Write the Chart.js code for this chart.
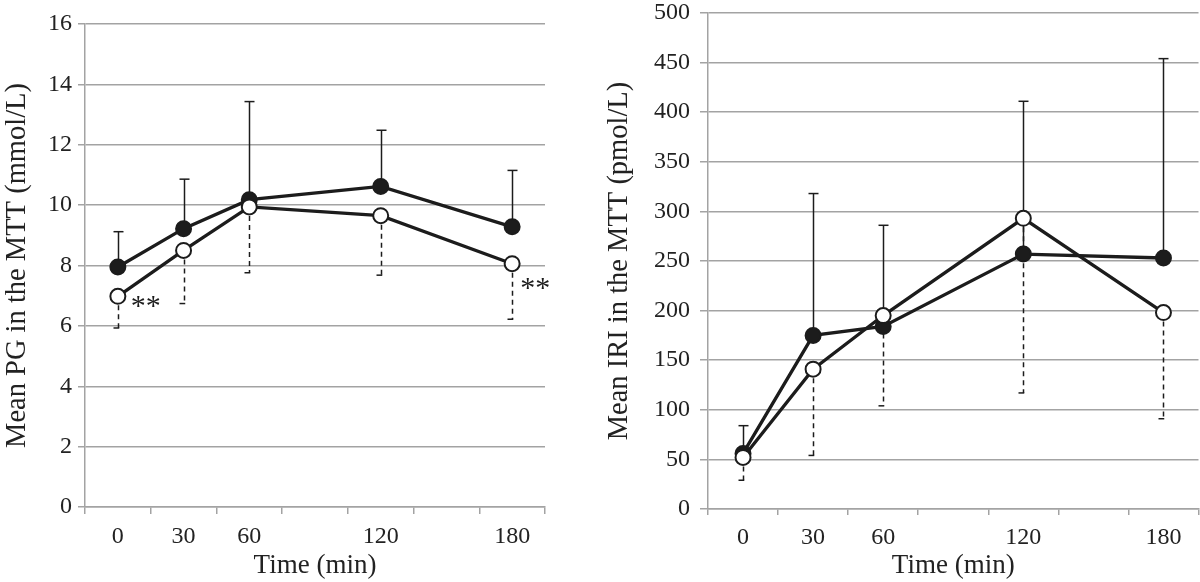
<!DOCTYPE html>
<html lang="en">
<head>
  <meta charset="UTF-8">
  <title>Mean PG and IRI in the MTT</title>
  <script src="https://cdn.jsdelivr.net/npm/chart.js"></script>
  <style>
    body { margin: 0; background: #fff; overflow: hidden; }
    #wrap { position: relative; width: 1200px; height: 582px; overflow: hidden; }
    canvas { position: absolute; top: 0; }
  </style>
</head>
<body>
  <div id="wrap">
    <canvas id="pgChart" width="560" height="582" style="left:0"></canvas>
    <canvas id="iriChart" width="608" height="582" style="left:600px"></canvas>
  </div>

  <script>
    // time points (90 and 150 are empty slots on the axis)
    const timeLabels = ['0', '30', '60', '', '120', '', '180'];

    // plasma glucose, mmol/L
    const pgFilled = [7.95, 9.22, 10.18, null, 10.62, null, 9.28];
    const pgFilledUpper = [9.12, 10.86, 13.43, null, 12.48, null, 11.15];
    const pgOpen = [6.98, 8.5, 9.94, null, 9.65, null, 8.06];
    const pgOpenLower = [5.93, 6.74, 7.76, null, 7.68, null, 6.22];
    const pgStars = ['**', null, null, null, null, null, '**'];

    // immunoreactive insulin, pmol/L
    const iriFilled = [56, 175, 184, null, 257, null, 253];
    const iriFilledUpper = [84, 318, 286, null, 411, null, 454];
    const iriOpen = [52, 141, 195, null, 293, null, 198];
    const iriOpenLower = [29, 54, 104, null, 117, null, 91];

    Chart.defaults.font.family = '"Liberation Serif", "DejaVu Serif", serif';
    Chart.defaults.color = '#222';

    const gridGray = '#a3a3a3';
    const ink = '#1c1c1c';

    // draws SD bars (solid up for filled, dashed down for open) and star marks
    function makeExtras(bars, stars, starOffsets) {
      return {
        id: 'extras',
        beforeDatasetsDraw(chart) {
          const { ctx, scales: { x, y } } = chart;
          ctx.save();
          ctx.strokeStyle = ink;
          ctx.lineWidth = 1.5;
          bars.forEach(b => {
            b.to.forEach((v, i) => {
              if (v == null) return;
              const px = Math.round(x.getPixelForValue(i)) + 0.5;
              const y0 = y.getPixelForValue(b.from[i]);
              const y1 = y.getPixelForValue(v);
              ctx.setLineDash(b.dashed ? [5, 4] : []);
              ctx.beginPath();
              ctx.moveTo(px, y0);
              ctx.lineTo(px, y1);
              ctx.stroke();
              ctx.setLineDash([]);
              ctx.beginPath();
              if (b.dashed) {
                ctx.moveTo(px - 5, y1);
                ctx.lineTo(px + 0.75, y1);
              } else {
                ctx.moveTo(px - 5, y1);
                ctx.lineTo(px + 5, y1);
              }
              ctx.stroke();
            });
          });
          ctx.restore();
        },
        afterDatasetsDraw(chart) {
          if (!stars) return;
          const { ctx, scales: { x, y } } = chart;
          ctx.save();
          ctx.fillStyle = ink;
          ctx.font = '30px "Liberation Serif"';
          ctx.textAlign = 'left';
          ctx.textBaseline = 'middle';
          stars.s.forEach((s, i) => {
            if (!s) return;
            const off = starOffsets[i];
            ctx.fillText(s, x.getPixelForValue(i) + off[0], y.getPixelForValue(stars.at[i]) + off[1]);
          });
          ctx.restore();
        }
      };
    }

    function makeChart(id, cfg) {
      const ctx = document.getElementById(id).getContext('2d');
      return new Chart(ctx, {
        type: 'line',
        data: {
          labels: timeLabels,
          datasets: [
            {
              data: cfg.open,
              borderColor: ink,
              borderWidth: 3.3,
              pointRadius: 7.5,
              pointBorderWidth: 2,
              pointBackgroundColor: '#fff',
              pointBorderColor: ink,
              spanGaps: true,
              order: 1
            },
            {
              data: cfg.filled,
              borderColor: ink,
              borderWidth: 3.3,
              pointRadius: 7.5,
              pointBorderWidth: 2,
              pointBackgroundColor: ink,
              pointBorderColor: ink,
              spanGaps: true,
              order: 2
            }
          ]
        },
        options: {
          responsive: false,
          animation: false,
          layout: { padding: cfg.padding },
          plugins: { legend: { display: false }, tooltip: { enabled: false } },
          scales: {
            x: {
              offset: true,
              grid: { offset: true, drawOnChartArea: false, tickLength: cfg.xTick, color: gridGray, lineWidth: 1.5 },
              border: { color: gridGray, width: 1.5 },
              ticks: { autoSkip: false, maxRotation: 0, padding: 8, font: { size: 24 }, color: '#222' },
              title: { display: true, text: 'Time (min)', font: { size: 27, lineHeight: 1 }, padding: { top: 0, bottom: 3 }, color: '#222' },
              afterFit(s) {
                s.height = cfg.xHeight;
                s.paddingLeft = 0;
                s.paddingRight = 0;
              }
            },
            y: {
              min: 0,
              max: cfg.max,
              ticks: { stepSize: cfg.step, padding: cfg.yPad, font: { size: 24 }, color: '#222' },
              grid: { color: gridGray, lineWidth: 1.5, tickLength: cfg.yTick },
              border: { color: gridGray, width: 1.5 },
              title: { display: true, text: cfg.yTitle, font: { size: 28.5, lineHeight: 1 }, padding: { top: cfg.titleTop, bottom: 0 }, color: '#222' },
              afterFit(s) {
                s.width = cfg.yWidth;
                s.paddingTop = 0;
                s.paddingBottom = 0;
              }
            }
          }
        },
        plugins: [makeExtras(
          [
            { from: cfg.filled, to: cfg.filledUpper, dashed: false },
            { from: cfg.open, to: cfg.openLower, dashed: true }
          ],
          cfg.stars ? { s: cfg.stars, at: cfg.open } : null,
          cfg.starOffsets
        )]
      });
    }

    makeChart('pgChart', {
      filled: pgFilled, filledUpper: pgFilledUpper,
      open: pgOpen, openLower: pgOpenLower,
      stars: pgStars,
      starOffsets: [[13, 11], null, null, null, null, null, [8, 25]],
      max: 16, step: 2,
      yTitle: 'Mean PG in the MTT (mmol/L)',
      padding: { top: 24, right: 15, bottom: 0, left: 0 },
      yWidth: 85, xHeight: 75, xTick: 7, yTick: 7, yPad: 6, titleTop: 3
    });

    makeChart('iriChart', {
      filled: iriFilled, filledUpper: iriFilledUpper,
      open: iriOpen, openLower: iriOpenLower,
      stars: null,
      starOffsets: null,
      max: 500, step: 50,
      yTitle: 'Mean IRI in the MTT (pmol/L)',
      padding: { top: 13, right: 2, bottom: 0, left: 0 },
      yWidth: 108, xHeight: 73, xTick: 6, yTick: 8, yPad: 10, titleTop: 5
    });
  </script>
</body>
</html>
